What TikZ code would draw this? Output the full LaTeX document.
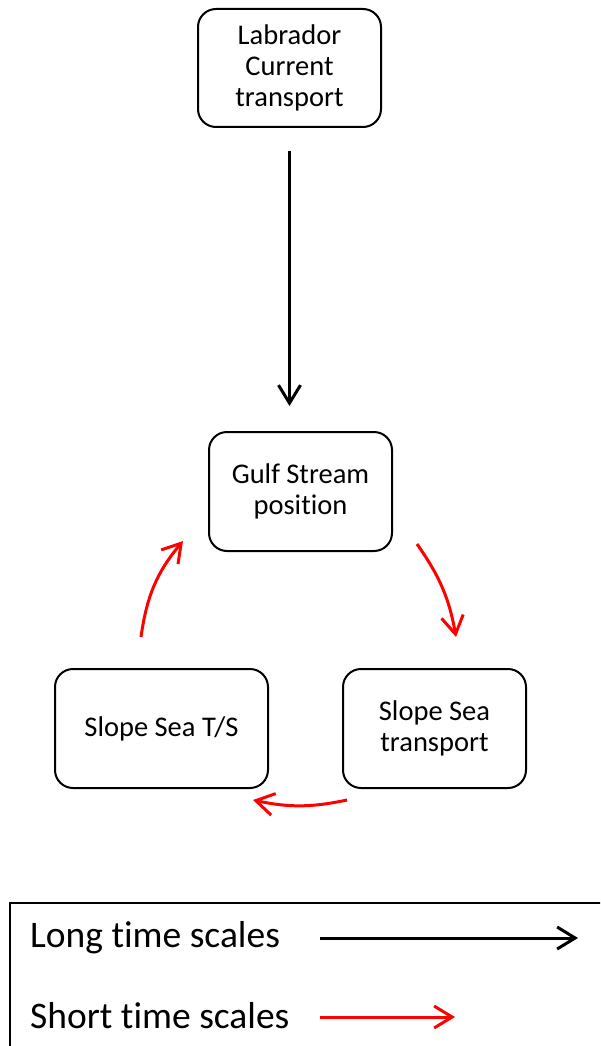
\documentclass[tikz,border=0pt]{standalone}
\usepackage{fontspec}
\setmainfont[Ligatures=NoCommon]{Carlito}
\usetikzlibrary{arrows.meta}
\begin{document}
\begin{tikzpicture}[x=1pt,y=1pt,
  box/.style={draw=black, line width=2pt, rounded corners=18pt,
    align=center, inner sep=0pt, font=\fontsize{28.5}{31}\selectfont},
  tip/.style={-{Straight Barb[length=18pt,width=22pt,line width=3pt]}},
  longarrow/.style={tip, draw=black, line width=3pt},
  shortarrow/.style={tip, draw=red, line width=3pt},
  legendtext/.style={anchor=west, inner sep=0pt, font=\fontsize{37.5}{40}\selectfont}]
  \clip (0,0) rectangle (600,-1046);
  \fill[white] (0,0) rectangle (600,-1046);

  % process boxes
  \node[box, minimum width=183pt, minimum height=118pt] (lab) at (289.5,-68) {Labrador\\Current\\transport};
  \node[box, minimum width=183pt, minimum height=119pt] (gulf) at (300.5,-491.5) {Gulf Stream\\position};
  \node[box, minimum width=213pt, minimum height=119pt] (ts) at (161.5,-728.5) {Slope Sea T/S};
  \node[box, minimum width=183pt, minimum height=119pt] (sst) at (434.5,-728.5) {Slope Sea\\transport};

  % long time scale link
  \draw[longarrow, shorten <=23pt, shorten >=25pt] (lab.south) -- (lab.south |- gulf.north);

  % short time scale cycle
  \coordinate (g1) at (417,-544);
  \coordinate (s1) at (456,-637);
  \coordinate (s2) at (347,-800);
  \coordinate (t2) at (253,-800);
  \coordinate (t3) at (141,-637);
  \coordinate (g3) at (183,-541);
  \draw[shortarrow] (g1) to[out=-55, in=100] (s1);
  \draw[shortarrow] (s2) to[out=192, in=-12] (t2);
  \draw[shortarrow] (t3) to[out=82, in=230] (g3);

  % legend
  \draw[line width=2pt] (10,-1060) -- (10,-903) -- (620,-903);
  \node[legendtext] (ltxt) at (30,-938) {Long time scales};
  \node[legendtext] (stxt) at (30,-1016) {Short time scales};
  \coordinate (la) at (320,-938);
  \coordinate (lb) at (578,-938);
  \coordinate (sa) at (320,-1017);
  \coordinate (sb) at (455,-1017);
  \draw[longarrow] (la) -- (lb);
  \draw[shortarrow] (sa) -- (sb);
\end{tikzpicture}
\end{document}
